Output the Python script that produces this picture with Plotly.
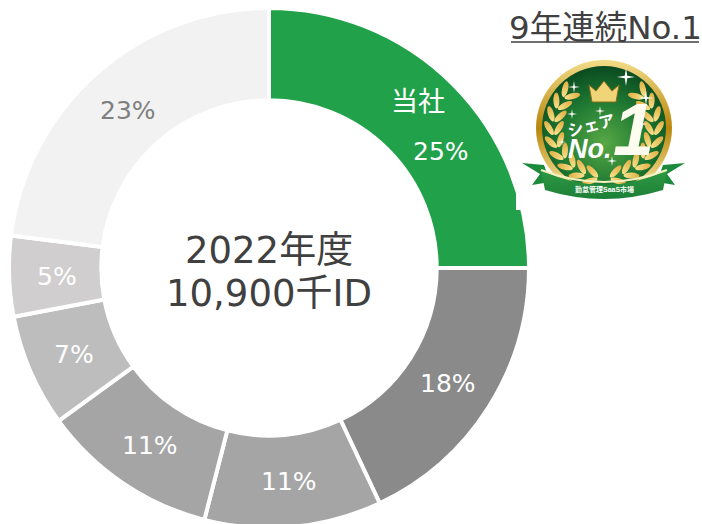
import base64, math
import plotly.graph_objects as go

W, H = 702, 530
shares = [25, 18, 11, 11, 7, 5, 23]
names = ["当社", "B", "C", "D", "E", "F", "その他"]
slice_labels = ["", "18%", "11%", "11%", "7%", "5%", "23%"]
slice_colors = ["#21a24a", "#8a8a8a", "#a5a5a5", "#a5a5a5", "#bdbdbd", "#d0cece", "#f2f2f2"]
label_colors = ["#ffffff"] * 6 + ["#7f7f7f"]
FONT = "DejaVu Sans, Noto Sans CJK JP, sans-serif"
BADGE_FONT = "Liberation Sans, Noto Sans CJK JP, sans-serif"
CX, CY, RING = 269, 268, 212.5


def leaf(cx, cy, a, l=16, w=6):
    return (f'<ellipse cx="{cx:.1f}" cy="{cy:.1f}" rx="{l/2}" ry="{w/2}" fill="url(#lf)" '
            f'transform="rotate({a:.1f} {cx:.1f} {cy:.1f})"/>')


def laurel(cx, cy, r):
    out = []
    for side in (-1, 1):
        for i in range(9):
            t = math.radians(165 - i * 15)
            x = r * math.sin(t)
            y = -r * math.cos(t)
            base = math.degrees(math.atan2(-math.sin(t), -math.cos(t)))
            for off, da in ((5, 32), (-5, -32)):
                lx = x + off * math.sin(t)
                ly = y - off * math.cos(t)
                if side == 1:
                    out.append(leaf(cx + lx, cy + ly, base + da))
                else:
                    out.append(leaf(cx - lx, cy + ly, 180 - (base + da)))
    return "".join(out)


def star(cx, cy, r):
    k = r * 0.14
    return (f'<path d="M{cx} {cy-r} L{cx+k} {cy-k} L{cx+r} {cy} L{cx+k} {cy+k} L{cx} {cy+r} '
            f'L{cx-k} {cy+k} L{cx-r} {cy} L{cx-k} {cy-k} Z" fill="#ffffff"/>')


bx, by, bw, bh = 516, 50, 182, 160
ox, oy = 604 - bx, 128 - by
stars = "".join(star(ox + a, oy + b, r) for a, b, r in [
    (-30, -41, 6), (22, -51, 9), (-32, -14, 5), (-4, -17, 5), (38, -4, 6),
    (8, 33, 5), (-42, 14, 4), (42, -30, 7),
])
art = f'''<svg xmlns="http://www.w3.org/2000/svg" width="{bw}" height="{bh}" viewBox="0 0 {bw} {bh}">
<defs>
<radialGradient id="g" cx="50%" cy="62%" r="62%"><stop offset="0" stop-color="#58a846"/><stop offset="0.55" stop-color="#1f7a32"/><stop offset="1" stop-color="#0a4a20"/></radialGradient>
<linearGradient id="r" x1="0" y1="0" x2="0" y2="1"><stop offset="0" stop-color="#f3dc88"/><stop offset="0.5" stop-color="#b8860b"/><stop offset="1" stop-color="#fff1b0"/></linearGradient>
<linearGradient id="lf" x1="0" y1="0" x2="1" y2="0"><stop offset="0" stop-color="#f9e28c"/><stop offset="1" stop-color="#e0ad42"/></linearGradient>
<linearGradient id="rb" x1="0" y1="0" x2="0" y2="1"><stop offset="0" stop-color="#2e9a45"/><stop offset="1" stop-color="#1c7f36"/></linearGradient>
</defs>
<rect x="0" y="0" width="{bw}" height="{bh}" fill="#fff"/>
<circle cx="{ox}" cy="{oy}" r="68" fill="url(#r)"/>
<circle cx="{ox}" cy="{oy}" r="62" fill="url(#g)"/>
{laurel(ox, oy, 50)}
<path d="M{ox-12} {oy-26} l-3 -17 l7 6 l8 -10 l8 10 l7 -6 l-3 17 z" fill="#f0d478" stroke="#8a6a1c" stroke-width="1"/>
{stars}
<path d="M{ox-82} {oy+35} l22 2 l6 17 l-18 3 l8 -11 z" fill="#1c8a3c"/>
<path d="M{ox+81} {oy+35} l-22 2 l-6 17 l18 3 l-8 -11 z" fill="#1c8a3c"/>
<path d="M{ox-63} {oy+42} Q{ox} {oy+72} {ox+63} {oy+42} L{ox+59} {oy+62} Q{ox} {oy+80} {ox-59} {oy+62} Z" fill="url(#rb)"/>
<path d="M{ox-63} {oy+42} Q{ox} {oy+66} {ox+63} {oy+42}" stroke="#f4f0c0" stroke-width="2" fill="none"/>
</svg>'''
badge_uri = "data:image/svg+xml;base64," + base64.b64encode(art.encode()).decode()

fig = go.Figure(go.Pie(
    labels=names,
    values=shares,
    textinfo="none",
    marker=dict(colors=slice_colors, line=dict(color="#ffffff", width=4)),
    hole=0.645,
    sort=False,
    direction="clockwise",
    rotation=0,
    showlegend=False,
    domain=dict(x=[9 / W, 529 / W], y=[(H - 528) / H, (H - 8) / H]),
))


def px(x):
    return x / W


def py(y):
    return 1 - y / H


def note(x, y, text, size, color, angle=0, family=FONT):
    return dict(x=px(x), y=py(y), xref="paper", yref="paper", text=text, showarrow=False,
                xanchor="center", yanchor="middle", textangle=angle,
                font=dict(family=family, size=size, color=color))


slice_notes = []
running = 0
for share, label, colour in zip(shares, slice_labels, label_colors):
    middle = math.radians((running + share / 2) * 3.6)
    running += share
    if label:
        slice_notes.append(note(CX + RING * math.sin(middle), CY - RING * math.cos(middle) + 2,
                                label, 25, colour))

fig.update_layout(
    width=W, height=H,
    margin=dict(l=0, r=0, t=0, b=0),
    paper_bgcolor="#ffffff",
    images=[dict(source=badge_uri, xref="paper", yref="paper", x=px(bx), y=py(by),
                 sizex=bw / W, sizey=bh / H, xanchor="left", yanchor="top",
                 sizing="stretch", layer="above")],
    shapes=[dict(type="line", xref="paper", yref="paper", x0=px(511), x1=px(699),
                 y0=py(42), y1=py(42), line=dict(color="#404040", width=1.5))],
    annotations=slice_notes + [
        note(269, 250, "2022年度", 37, "#404040"),
        note(269, 293, "10,900千ID", 37, "#404040"),
        note(605, 28, "9年連続No.1", 32.5, "#404040"),
        note(418, 101, "当社", 27, "#ffffff"),
        note(441, 151, "25%", 25, "#ffffff"),
        note(591, 125, "<b>シェア</b>", 16, "#ffffff", -14, BADGE_FONT),
        note(633, 130, "<b><i>1</i></b>", 74, "#fffdf0", 0, BADGE_FONT),
        note(590, 149, "<b><i>No.</i></b>", 27, "#ffffff", 0, BADGE_FONT),
        note(604, 190, "<b>勤怠管理SaaS市場</b>", 7, "#ffffff", 0, BADGE_FONT),
    ],
)
fig.write_html("out.html", default_width=f"{W}px", default_height=f"{H}px",
               config=dict(displayModeBar=False),
               post_script="document.body.style.margin='0';document.documentElement.style.overflow='hidden';")
